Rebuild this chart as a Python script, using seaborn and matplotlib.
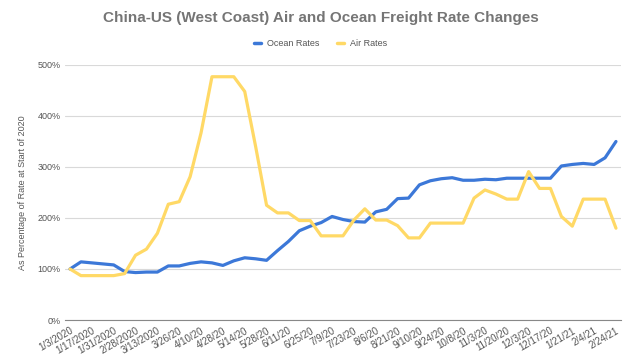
import matplotlib
matplotlib.use("Agg")
import matplotlib.pyplot as plt
import seaborn as sns
import pandas as pd
from matplotlib.ticker import FuncFormatter
from matplotlib.lines import Line2D

ocean_rates = [100, 114, 112, 110, 108, 95, 93, 94, 94, 106, 106, 111, 114, 112, 107, 116,
               122, 120, 117, 136, 154, 175, 184, 191, 203, 197, 193, 192, 212, 217,
               238, 239, 265, 273, 277, 279, 274, 274, 276, 275, 278, 278, 278, 278, 278,
               302, 305, 307, 305, 318, 350]
air_rates = [100, 87, 87, 87, 87, 91, 127, 139, 170, 227, 232, 281, 367, 477, 477, 477,
             448, 340, 225, 210, 210, 195, 195, 165, 165, 165, 196, 218, 196, 196,
             185, 161, 161, 190, 190, 190, 190, 239, 255, 247, 237, 237, 291, 258, 258,
             203, 184, 237, 237, 237, 180]
tick_labels = ["1/3/2020", "1/17/2020", "1/31/2020", "2/28/2020", "3/13/2020", "3/26/20",
               "4/10/20", "4/28/20", "5/14/20", "5/28/20", "6/11/20", "6/25/20", "7/9/20",
               "7/23/20", "8/6/20", "8/21/20", "9/10/20", "9/24/20", "10/8/20", "11/3/20",
               "11/20/20", "12/3/20", "12/17/20", "1/21/21", "2/4/21", "2/24/21"]

idx = list(range(len(ocean_rates)))
df = pd.DataFrame({
    "idx": idx * 2,
    "value": ocean_rates + air_rates,
    "series": ["Ocean Rates"] * len(ocean_rates) + ["Air Rates"] * len(air_rates),
})

sns.set_theme(style="white")
plt.rcParams['font.family'] = ['Liberation Sans', 'DejaVu Sans']

fig = plt.figure(figsize=(6.41, 3.6), dpi=100)
ax = fig.add_axes([65/641, 1-320/360, (621-65)/641, (320-65)/360])

palette = {"Ocean Rates": "#3c78d8", "Air Rates": "#ffd966"}
sns.lineplot(data=df, x="idx", y="value", hue="series", palette=palette,
             linewidth=2.3, ax=ax, legend=False)

ax.set_xlim(-0.46, 50.46)
ax.set_ylim(0, 500)
ax.set_yticks([0, 100, 200, 300, 400, 500])
ax.yaxis.set_major_formatter(FuncFormatter(lambda v, p: f"{int(v)}%"))
ax.set_xticks(list(range(0, len(ocean_rates), 2)))
ax.set_xticklabels(tick_labels, rotation=30, ha="right", rotation_mode="anchor")
ax.tick_params(axis="y", labelsize=6.5, length=0, pad=3)
ax.tick_params(axis="x", labelsize=7, length=0, pad=4)
for t in ax.get_yticklabels() + ax.get_xticklabels():
    t.set_color("#555555")

ax.grid(axis="y", color="#d9d9d9", linewidth=0.8)
ax.grid(axis="x", visible=False)
for s in ["top", "right", "left"]:
    ax.spines[s].set_visible(False)
ax.spines["bottom"].set_color("#888888")
ax.spines["bottom"].set_linewidth(0.8)
ax.set_axisbelow(True)

ax.set_xlabel("")
ax.set_ylabel("As Percentage of Rate at Start of 2020", fontsize=6.5, color="#555555", labelpad=8)

fig.text(0.5, 1-18/360, "China-US (West Coast) Air and Ocean Freight Rate Changes",
         ha="center", va="center", fontsize=11, fontweight="bold", color="#757575")

handles = [Line2D([], [], color="#3c78d8", lw=2.5), Line2D([], [], color="#ffd966", lw=2.5)]
fig.legend(handles, ["Ocean Rates", "Air Rates"], loc="center", bbox_to_anchor=(0.5, 1-44/360),
           ncol=2, frameon=False, fontsize=6.5, handlelength=0.8, handletextpad=0.6,
           columnspacing=2.0, labelcolor="#555555")

fig.savefig("out.png", dpi=100)
